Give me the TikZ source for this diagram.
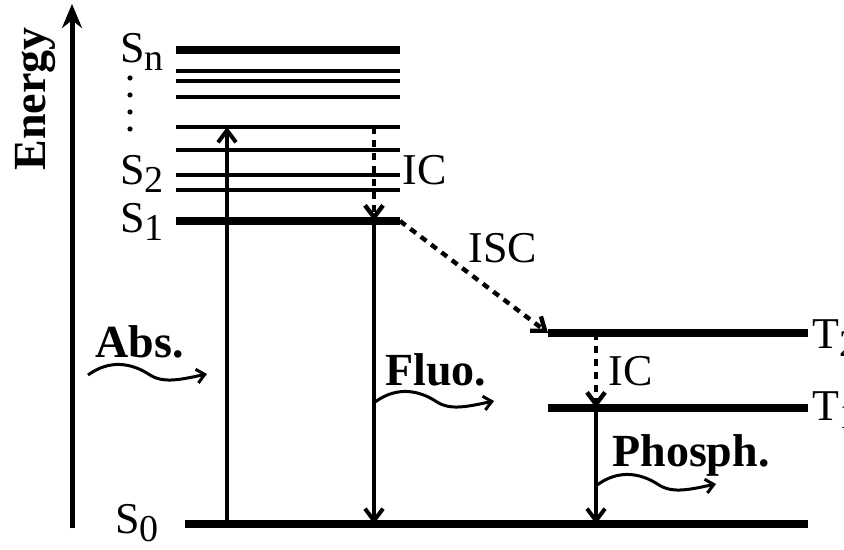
\documentclass[tikz,border=0pt]{standalone}
\usepackage{fontspec}
\setmainfont{Liberation Serif}
\usetikzlibrary{arrows.meta}
\usetikzlibrary{positioning}

\newcommand{\lvlab}[2]{#1\raisebox{-4pt}{\fontsize{19}{19}\selectfont #2}}
\newcommand{\wavy}[1]{\draw[wave] (#1) .. controls +(22,-16) and +(-18,-12) .. ++(62,0)
  .. controls +(14,9) and +(-24,5) .. ++(57,-1);}

\begin{document}
\begin{tikzpicture}[
  x=0.5pt, y=-0.5pt,
  every node/.style={
    font=\fontsize{22}{26}\selectfont, inner sep=0pt
  },
  trans/.style={line width=2pt, -{Straight Barb[length=6pt,width=9pt]}},
  nonrad/.style={trans, line width=2.2pt, dash pattern=on 3.5pt off 3pt},
  wave/.style={line width=1.5pt, -{Straight Barb[length=4pt,width=7pt]}},
  tag/.style={font=\fontsize{23}{27}\selectfont\bfseries}
]
\useasboundingbox (0,0) rectangle (844,550);

% energy axis
\coordinate (e0) at (72,528);
\coordinate (e1) at (72,4);
\draw[line width=2.5pt, -{Stealth[length=12pt,width=10pt]}] (e0) -- (e1);
\node[rotate=90, anchor=base, font=\fontsize{23}{27}\selectfont\bfseries] (energy) at (45,99) {Energy};

% singlet levels
\foreach \n/\y/\w in {1/221/4pt, 2/190/2.25pt, 3/175/2.25pt, 4/150/2.25pt, 5/127/2.25pt,
                      6/97/2.25pt, 7/81/2.25pt, 8/71/2.25pt, 9/50/4pt} {
  \coordinate (sl\n) at (176,\y);
  \coordinate (sr\n) at (400,\y);
  \draw[line width=\w] (sl\n) -- (sr\n);
}
\foreach \y in {78,95,112,129}
  \fill (130,\y) circle (1.3pt);

% ground and triplet levels
\coordinate (g0l) at (185,524);
\coordinate (g0r) at (808,524);
\coordinate (t2l) at (548,333);
\coordinate (t2r) at (808,333);
\coordinate (t1l) at (548,408);
\coordinate (t1r) at (808,408);
\draw[line width=4pt] (g0l) -- (g0r);
\draw[line width=4pt] (t2l) -- (t2r);
\draw[line width=4pt] (t1l) -- (t1r);

\node[anchor=base west] (labSn) at (120,63) {\lvlab{S}{n}};
\node[anchor=base west] (labS2) at (120,185) {\lvlab{S}{2}};
\node[anchor=base west] (labS1) at (120,233) {\lvlab{S}{1}};
\node[anchor=base west] (labS0) at (115,533) {\lvlab{S}{0}};
\node[anchor=base west] (labT2) at (812,348) {\lvlab{T}{2}};
\node[anchor=base west] (labT1) at (812,420) {\lvlab{T}{1}};

% transitions
\coordinate (absx) at (227,0);
\coordinate (flux) at (374,0);
\coordinate (phx) at (596,0);
\draw[trans] (absx |- g0l) -- (absx |- sl5);
\draw[nonrad] (flux |- sl5) -- (flux |- sl1);
\draw[trans] (flux |- sl1) -- (flux |- g0l);
\draw[nonrad] (sr1) -- (t2l);
\draw[nonrad] (phx |- t2l) -- (phx |- t1l);
\draw[trans] (phx |- t1l) -- (phx |- g0l);

\node[anchor=base west] (ic1) at (402,185) {IC};
\node[anchor=base west] (isc) at (468,263) {ISC};
\node[anchor=base west] (ic2) at (608,385) {IC};

% photons
\coordinate (wabs) at (88,375);
\coordinate (wflu) at (375,402);
\coordinate (wph) at (597,485);
\wavy{wabs}
\wavy{wflu}
\wavy{wph}
\node[tag, anchor=base west] (abs) at (95,357) {Abs.};
\node[tag, anchor=base west] (flu) at (385,385) {Fluo.};
\node[tag, anchor=base west] (pho) at (612,466) {Phosph.};

\end{tikzpicture}
\end{document}
